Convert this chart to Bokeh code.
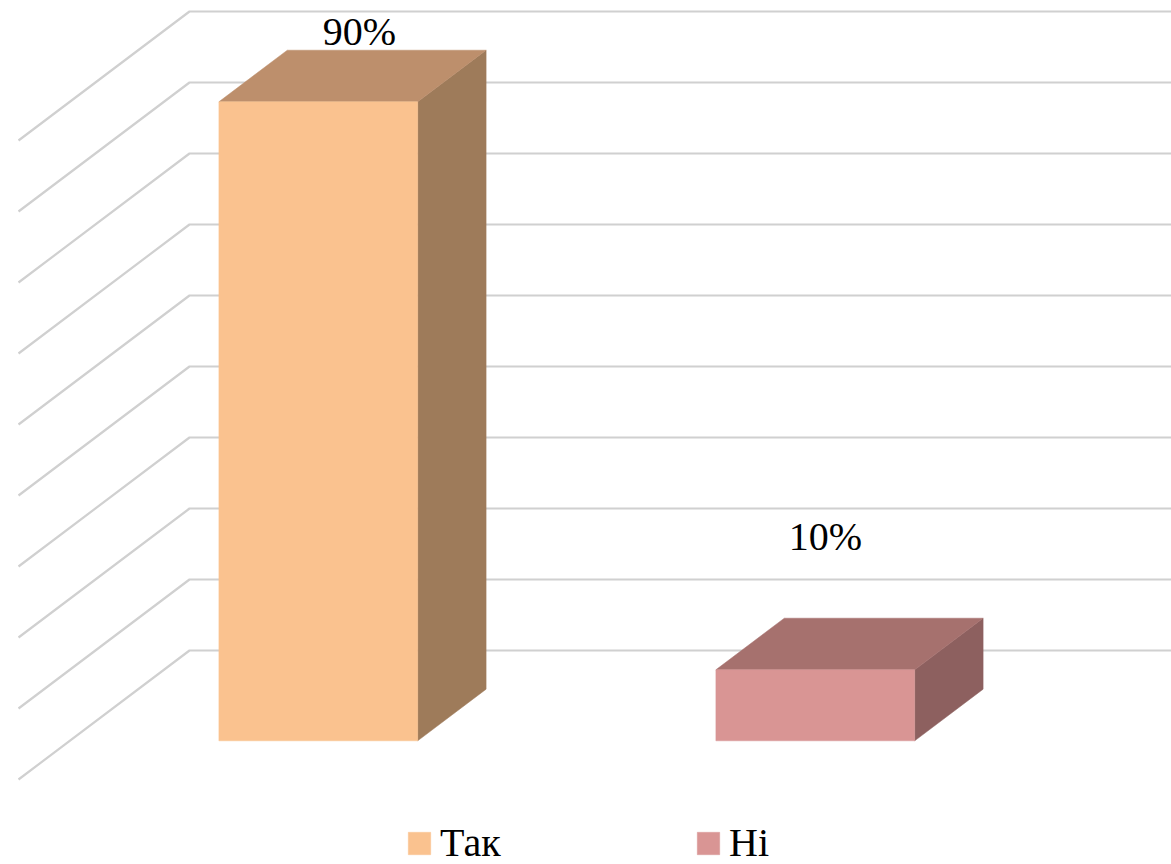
from bokeh.plotting import figure
from bokeh.models import Range1d, Legend, LegendItem
from bokeh.embed import file_html
from bokeh.resources import INLINE
from bokeh.core.properties import value

# ---------------- data ----------------
categories = ["Так", "Ні"]
shares = [90, 10]                 # percent
label_texts = ["90%", "10%"]
grid_ticks = [0, 10, 20, 30, 40, 50, 60, 70, 80, 90]

# ---------------- style ----------------
front_colors = ["#FAC28F", "#D99594"]
top_colors = ["#BD8F6C", "#A6716E"]
side_colors = ["#9E7B5A", "#8D605F"]
grid_color = "#D0D0D0"
FONT = "Liberation Serif"

W, H = 1171, 864
PX_X = 497.0          # screen px per category unit
PX_Y = 7.1            # screen px per percent
X0 = 189.0            # figure px of back-wall left edge
Y0 = 650.0            # figure px of 0 % on back wall
DX = -171.0 / PX_X    # full depth offset (category units)
DY = -129.0 / PX_Y    # full depth offset (percent units)
Z_FRONT, Z_BACK = 0.7, 0.3
HALF_W = 0.2
label_off_x_px = [7, -24]
label_off_y_px = [45, 108]


def proj(x, y, z):
    return x + z * DX, y + z * DY


p = figure(width=W, height=H, output_backend="svg", toolbar_location=None,
           x_axis_type=None, y_axis_type=None, min_border=0,
           x_range=Range1d(-X0 / PX_X, (W - X0) / PX_X),
           y_range=Range1d((Y0 - H) / PX_Y, Y0 / PX_Y))
p.grid.visible = False
p.outline_line_color = None
p.background_fill_color = "white"
p.border_fill_color = "white"

# gridlines: back wall + side wall
xs, ys = [], []
x_end = (W - X0) / PX_X + 0.1
for t in grid_ticks:
    sx, sy = proj(0, t, 1.0)
    xs.append([x_end, 0, sx])
    ys.append([t, t, sy])
p.multi_line(xs, ys, line_color=grid_color, line_width=2.2)

# 3D bars
front_renderers = []
for i, (cat, v) in enumerate(zip(categories, shares)):
    xc = i + 0.5
    xl, xr = xc - HALF_W, xc + HALF_W
    # side face
    pts = [proj(xr, 0, Z_FRONT), proj(xr, 0, Z_BACK), proj(xr, v, Z_BACK), proj(xr, v, Z_FRONT)]
    p.patch([a for a, b in pts], [b for a, b in pts], fill_color=side_colors[i], line_color=side_colors[i], line_width=0.5)
    # top face
    pts = [proj(xl, v, Z_FRONT), proj(xr, v, Z_FRONT), proj(xr, v, Z_BACK), proj(xl, v, Z_BACK)]
    p.patch([a for a, b in pts], [b for a, b in pts], fill_color=top_colors[i], line_color=top_colors[i], line_width=0.5)
    # front face
    pts = [proj(xl, 0, Z_FRONT), proj(xr, 0, Z_FRONT), proj(xr, v, Z_FRONT), proj(xl, v, Z_FRONT)]
    r = p.patch([a for a, b in pts], [b for a, b in pts], fill_color=front_colors[i], line_color=front_colors[i], line_width=0.5)
    front_renderers.append(r)
    # data label
    lx, ly = proj(xc, v, 0.5)
    lx += label_off_x_px[i] / PX_X
    ly += label_off_y_px[i] / PX_Y
    p.text(x=[lx], y=[ly], text=[label_texts[i]], text_font=value(FONT),
           text_font_size="40px", text_align="center", text_baseline="alphabetic",
           text_color="#000000")

legend = Legend(items=[LegendItem(label=c, renderers=[r]) for c, r in zip(categories, front_renderers)],
                orientation="horizontal", location=(405, -2),
                glyph_width=28, glyph_height=28, label_standoff=7,
                label_width=244, spacing=10, padding=0, margin=0,
                label_text_font=FONT, label_text_font_size="40px",
                label_text_color="#000000",
                border_line_color=None, background_fill_alpha=0)
p.add_layout(legend)

open("out.html", "w").write(file_html(p, INLINE))
